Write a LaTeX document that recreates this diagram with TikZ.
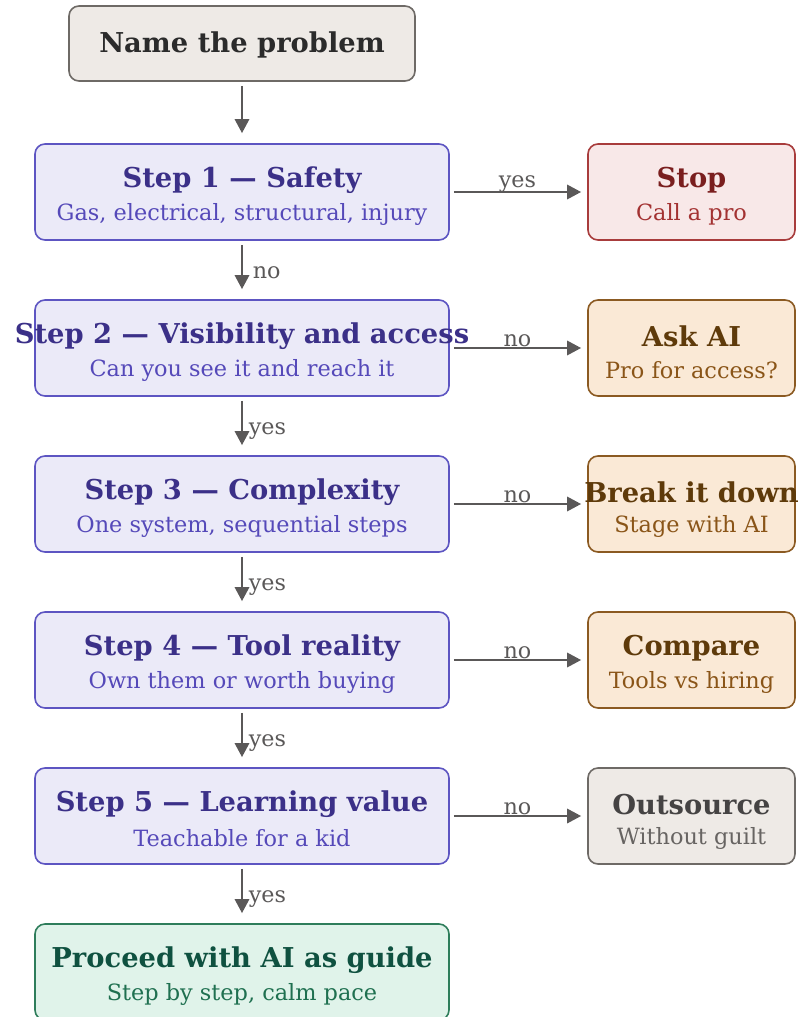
\documentclass[tikz,border=0pt]{standalone}
\usepackage{fontspec}
\setmainfont{DejaVu Serif}
\usetikzlibrary{arrows.meta}
\definecolor{arr}{HTML}{5A5858}
\definecolor{gfill}{HTML}{EEEAE6}\definecolor{gdraw}{HTML}{6E6A66}\definecolor{gtitle}{HTML}{2B2B2B}
\definecolor{ogtitle}{HTML}{454343}\definecolor{ogsub}{HTML}{676462}
\definecolor{pfill}{HTML}{EBEAF8}\definecolor{pdraw}{HTML}{5D55C2}\definecolor{ptitle}{HTML}{3B3088}\definecolor{psub}{HTML}{5549B9}
\definecolor{rfill}{HTML}{F8E8E8}\definecolor{rdraw}{HTML}{A83C3C}\definecolor{rtitle}{HTML}{7A1E1E}\definecolor{rsub}{HTML}{A33232}
\definecolor{ofill}{HTML}{FAE9D6}\definecolor{odraw}{HTML}{8B5A22}\definecolor{otitle}{HTML}{5E3A0A}\definecolor{osub}{HTML}{8A5518}
\definecolor{efill}{HTML}{E0F3EA}\definecolor{edraw}{HTML}{2E7D5B}\definecolor{etitle}{HTML}{0F5140}\definecolor{esub}{HTML}{1F7050}
\tikzset{
  box/.style={rectangle, rounded corners=7.5pt, line width=1.2pt, inner sep=0pt},
  leftbox/.style={box, minimum width=310.5pt, minimum height=72pt},
  rightbox/.style={box, minimum width=155.25pt, minimum height=72pt},
  ttl/.style={font=\fontsize{20.5}{24}\selectfont\bfseries, inner sep=0pt, anchor=center},
  sub/.style={font=\fontsize{16.8}{20}\selectfont, inner sep=0pt, anchor=center},
  lbl/.style={font=\fontsize{16.7}{20}\selectfont, text=arr, inner sep=0pt},
  flow/.style={draw=arr, line width=2.2pt, -{Triangle[length=10.5pt,width=10.5pt]}},
}
\begin{document}
\begin{tikzpicture}[x=0.75pt,y=-0.75pt]
\useasboundingbox (0,0) rectangle (802,1017);
% top box
\node[box, minimum width=259.5pt, minimum height=56.25pt, fill=gfill, draw=gdraw] (name) at (242,43.5) {};
\node[ttl, text=gtitle] (namet) at ([yshift=-1pt]name.center) {Name the problem};
% left column
\foreach \n/\yy/\t/\s in {s1/192/Step 1 — Safety/{Gas, electrical, structural, injury},
  s2/348/Step 2 — Visibility and access/Can you see it and reach it,
  s3/504/Step 3 — Complexity/{One system, sequential steps},
  s4/660/Step 4 — Tool reality/Own them or worth buying,
  s5/816/Step 5 — Learning value/Teachable for a kid}{
  \node[leftbox, fill=pfill, draw=pdraw] (\n) at (242,\yy) {};
  \node[ttl, text=ptitle] (\n t) at ([yshift=11.5*0.75pt]\n.center) {\t};
  \node[sub, text=psub] (\n s) at ([yshift=-22*0.75pt]\n.center) {\s};
}
\node[leftbox, fill=efill, draw=edraw] (fin) at (242,972) {};
\node[ttl, text=etitle] (fint) at ([yshift=11.5*0.75pt]fin.center) {Proceed with AI as guide};
\node[sub, text=esub] (fins) at ([yshift=-22*0.75pt]fin.center) {Step by step, calm pace};
% right column
\node[rightbox, fill=rfill, draw=rdraw] (r1) at (691.5,192) {};
\node[ttl, text=rtitle] (r1t) at ([yshift=11.5*0.75pt]r1.center) {Stop};
\node[sub, text=rsub] (r1s) at ([yshift=-22*0.75pt]r1.center) {Call a pro};
\node[rightbox, fill=ofill, draw=odraw] (r2) at (691.5,348) {};
\node[ttl, text=otitle] (r2t) at ([yshift=11.5*0.75pt]r2.center) {Ask AI};
\node[sub, text=osub] (r2s) at ([yshift=-22*0.75pt]r2.center) {Pro for access?};
\node[rightbox, fill=ofill, draw=odraw] (r3) at (691.5,504) {};
\node[ttl, text=otitle] (r3t) at ([yshift=11.5*0.75pt]r3.center) {Break it down};
\node[sub, text=osub] (r3s) at ([yshift=-22*0.75pt]r3.center) {Stage with AI};
\node[rightbox, fill=ofill, draw=odraw] (r4) at (691.5,660) {};
\node[ttl, text=otitle] (r4t) at ([yshift=11.5*0.75pt]r4.center) {Compare};
\node[sub, text=osub] (r4s) at ([yshift=-22*0.75pt]r4.center) {Tools vs hiring};
\node[rightbox, fill=gfill, draw=gdraw] (r5) at (691.5,816) {};
\node[ttl, text=ogtitle] (r5t) at ([yshift=11.5*0.75pt]r5.center) {Outsource};
\node[sub, text=ogsub] (r5s) at ([yshift=-22*0.75pt]r5.center) {Without guilt};
% vertical arrows
\draw[flow] ([yshift=-4*0.75pt]name.south) -- ([yshift=10*0.75pt]s1.north);
\draw[flow] ([yshift=-4*0.75pt]s1.south) -- node[lbl, right, xshift=7pt, yshift=-4.5pt] {no} ([yshift=10*0.75pt]s2.north);
\draw[flow] ([yshift=-4*0.75pt]s2.south) -- node[lbl, right, xshift=4pt, yshift=-6pt] {yes} ([yshift=10*0.75pt]s3.north);
\draw[flow] ([yshift=-4*0.75pt]s3.south) -- node[lbl, right, xshift=4pt, yshift=-6pt] {yes} ([yshift=10*0.75pt]s4.north);
\draw[flow] ([yshift=-4*0.75pt]s4.south) -- node[lbl, right, xshift=4pt, yshift=-6pt] {yes} ([yshift=10*0.75pt]s5.north);
\draw[flow] ([yshift=-4*0.75pt]s5.south) -- node[lbl, right, xshift=4pt, yshift=-6pt] {yes} ([yshift=10*0.75pt]fin.north);
% horizontal arrows
\draw[flow] ([xshift=4*0.75pt]s1.east) -- node[lbl, above, yshift=-1.5pt] {yes} ([xshift=-6*0.75pt]r1.west);
\draw[flow] ([xshift=4*0.75pt]s2.east) -- node[lbl, above, yshift=0pt] {no} ([xshift=-6*0.75pt]r2.west);
\draw[flow] ([xshift=4*0.75pt]s3.east) -- node[lbl, above, yshift=0pt] {no} ([xshift=-6*0.75pt]r3.west);
\draw[flow] ([xshift=4*0.75pt]s4.east) -- node[lbl, above, yshift=0pt] {no} ([xshift=-6*0.75pt]r4.west);
\draw[flow] ([xshift=4*0.75pt]s5.east) -- node[lbl, above, yshift=0pt] {no} ([xshift=-6*0.75pt]r5.west);
\end{tikzpicture}
\end{document}
